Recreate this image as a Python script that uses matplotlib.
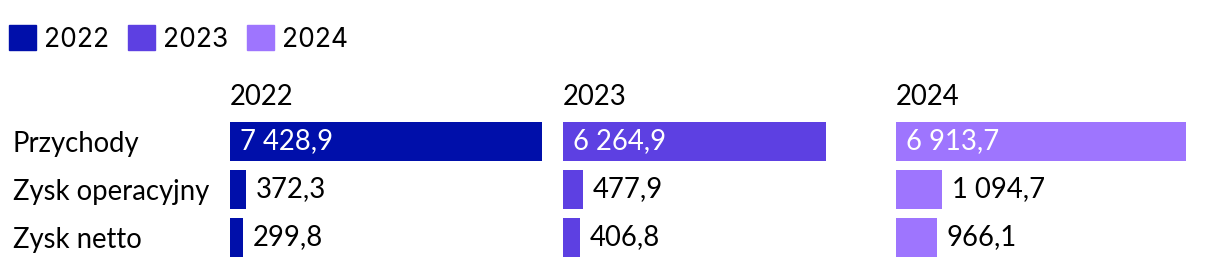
import matplotlib
matplotlib.use("Agg")
import matplotlib.pyplot as plt
from matplotlib.patches import Patch

years = ["2022", "2023", "2024"]
categories = ["Przychody", "Zysk operacyjny", "Zysk netto"]
values_2022 = [7428.9, 372.3, 299.8]
values_2023 = [6264.9, 477.9, 406.8]
values_2024 = [6913.7, 1094.7, 966.1]
colors = ["#000faa", "#5d40e2", "#9e75fe"]

series = [values_2022, values_2023, values_2024]

plt.rcParams["font.family"] = ["Lato", "DejaVu Sans"]

W, H = 1220, 270
fig = plt.figure(figsize=(W / 100, H / 100), dpi=100)

PX_PER_UNIT = 0.042
ax_w = 320
starts = [230, 563, 896]
top_px, bot_px = 117.5, 261.5


def fmt(v):
    s = f"{v:,.1f}"
    return s.replace(",", " ").replace(".", ",")


FS = 19.8
for i, (yr, vals, col) in enumerate(zip(years, series, colors)):
    ax = fig.add_axes([starts[i] / W, 1 - bot_px / H, ax_w / W, (bot_px - top_px) / H])
    ypos = list(range(len(categories)))
    ax.barh(ypos, vals, height=0.83, color=col)
    ax.set_xlim(0, ax_w / PX_PER_UNIT)
    ax.set_ylim(len(categories) - 0.5, -0.5)
    for s in ax.spines.values():
        s.set_visible(False)
    ax.set_xticks([])
    ax.tick_params(axis="y", length=0)
    if i == 0:
        ax.set_yticks(ypos)
        ax.set_yticklabels(categories, fontsize=FS, ha="left")
        ax.tick_params(axis="y", pad=(starts[0] - 13) * 0.72)
    else:
        ax.set_yticks([])
    ax.text(0, 1 + 20.5 / (bot_px - top_px), yr, transform=ax.transAxes,
            ha="left", va="center", fontsize=FS)
    vmax = max(vals)
    for y, v in zip(ypos, vals):
        if v > 0.5 * vmax:
            ax.annotate(fmt(v), (0, y), xytext=(7, 0), textcoords="offset points",
                        ha="left", va="center", color="white", fontsize=FS)
        else:
            ax.annotate(fmt(v), (v, y), xytext=(7, 0), textcoords="offset points",
                        ha="left", va="center", color="black", fontsize=FS)

handles = [Patch(color=c, label=y) for c, y in zip(colors, years)]
fig.legend(handles=handles, loc="upper left", bbox_to_anchor=(0.0, 0.94), ncol=3,
           frameon=False, handlelength=1.03, handleheight=1.03,
           handletextpad=0.3, columnspacing=0.7, borderaxespad=0.0,
           borderpad=0.35, prop={"family": ["Inter", "DejaVu Sans"], "size": 19})

fig.savefig("out.png", dpi=100)
